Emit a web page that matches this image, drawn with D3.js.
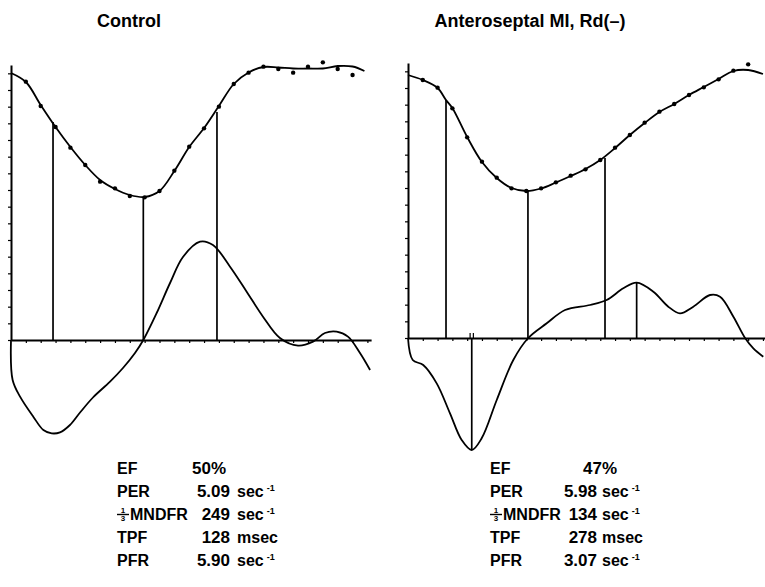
<!DOCTYPE html>
<html>
<head>
<meta charset="utf-8">
<script src="https://cdn.jsdelivr.net/npm/d3@7"></script>
<style>
body { margin: 0; background: #fff; }
text { font-family: "Liberation Sans", Arial, sans-serif; fill: #000; }
</style>
</head>
<body>
<script>
// frames of the gated study, 0..24 ; values in count units, 0 = derivative baseline
var titles = ["Control", "Anteroseptal MI, Rd(\u2013)"];

// Control : measured points (frames 1..23)
var ctrlDotV = [155.0, 140.4, 127.8, 115.4, 105.0, 95.0, 91.0, 86.4, 85.6, 89.4, 101.6, 116.0,
	127.0, 140.0, 153.6, 160.4, 164.0, 162.6, 160.4, 164.0, 166.6, 162.6, 159.0];
// Control : fitted volume curve
var ctrlFitF = [0, 1, 2, 3, 4, 5, 6, 7, 8, 9, 10, 11, 12, 13, 14, 15, 16, 17, 18, 19, 20, 21, 22, 23, 23.8];
var ctrlFitV = [160.2, 154.8, 141.0, 127.8, 115.8, 105.0, 96.0, 90.6, 87.0, 85.8, 89.4, 101.4, 115.8,
	127.2, 140.4, 153.6, 160.5, 163.8, 163.5, 162.9, 162.9, 162.9, 164.4, 164.1, 161.4];
// Control : first derivative
var ctrlDerF = [0, 0.11, 0.61, 1.5, 2.18, 2.74, 3.3, 3.97, 4.65, 5.52, 6.67, 7.54, 8.35, 8.91, 9.81, 10.71,
	11.58, 12.73, 13.6, 14.75, 15.87, 16.97, 18.11, 19.33, 20.34, 21.14, 21.93, 22.69, 23.5, 24.18];
var ctrlDerV = [0, -24, -34, -46, -54, -56, -55.4, -51, -43.5, -34.5, -25, -16.8, -7.8, 0, 16.2, 34.2,
	49.8, 59, 57, 44, 29, 14, 1.2, -3.4, -1, 4.2, 5, 2, -7.8, -18];
// Control : marker lines (frame, top of line)
var ctrlEventF = [2.83, 8.91, 13.87];
var ctrlEventV = [130.8, 85.8, 136.8];

// Anteroseptal MI : measured points (frames 1..23)
var miDotV = [154.8, 150.2, 137.8, 120.4, 105.8, 96.2, 89.8, 88.2, 89.8, 93.4, 97.4, 101.2, 106.8,
	114.2, 121.8, 129.2, 135.8, 140.4, 145.8, 150.4, 155.2, 160.4, 164.2];
var miFitF = [0, 1, 2, 2.57, 3, 4, 5, 6, 7, 8, 9, 10, 11, 12, 13, 14, 15, 16, 17, 18, 19, 20, 21, 22, 23, 24];
var miFitV = [157.8, 154.8, 150.0, 142.8, 138.0, 120.6, 105.6, 96.0, 90.0, 88.2, 89.7, 93.3, 97.2, 101.4,
	106.8, 114.0, 121.8, 129.0, 135.6, 140.4, 145.8, 150.6, 155.4, 160.2, 160.8, 158.4];
var miDerF = [0, 0.32, 1.03, 1.94, 2.84, 3.63, 4.31, 4.98, 6.0, 7.12, 8.13, 9.38, 10.62, 12.31, 13.43,
	14.56, 15.46, 16.59, 17.6, 18.39, 19.29, 20.42, 21.1, 22.0, 22.79, 23.35, 24.02];
var miDerV = [0, -13.2, -16.2, -27.2, -45.2, -61.2, -67.2, -60.2, -37.2, -13.2, 0, 8.8, 16.8, 19.8, 22.8,
	29.8, 33.2, 27.8, 18.8, 14.8, 18.8, 25.8, 24.8, 12.8, 0, -6.2, -11.2];
var miEventF = [2.57, 8.11, 13.32, 4.31, 15.46];
var miEventV = [142.8, 88.2, 108, -67.2, 33.2];
var miCursorF = [4.2, 4.42];

// parameter table
var rowLabels = ["EF", "PER", "MNDFR", "TPF", "PFR"];
var ctrlValues = ["50%", "5.09", "249", "128", "5.90"];
var miValues = ["47%", "5.98", "134", "278", "3.07"];
var rowUnits = ["", "sec", "sec", "msec", "sec"];
var rowSup = ["", "-1", "-1", "", "-1"];

var W = 765, H = 587;
var svg = d3.select("body").append("svg")
	.attr("width", W)
	.attr("height", H);

var panels = [
	{title: titles[0], dots: ctrlDotV, fitF: ctrlFitF, fitV: ctrlFitV, derF: ctrlDerF, derV: ctrlDerV,
		evF: ctrlEventF, evV: ctrlEventV, cursor: [], x0: 11, step: 14.85, base: 340, titleX: 129,
		labelX: 117, valX: 230, efX: 226, unitX: 237, values: ctrlValues},
	{title: titles[1], dots: miDotV, fitF: miFitF, fitV: miFitV, derF: miDerF, derV: miDerV,
		evF: miEventF, evV: miEventV, cursor: miCursorF, x0: 408, step: 14.79, base: 338, titleX: 530,
		labelX: 490, valX: 597, efX: 617, unitX: 602, values: miValues}
];

var yMax = 165, pxPerUnit = 275 / 165;
var rowY = [474, 497, 520, 543, 566];

panels.forEach(function(p) {
	var x = d3.scaleLinear().domain([0, 24.25]).range([p.x0, p.x0 + 24.25 * p.step]);
	var y = d3.scaleLinear().domain([0, yMax]).range([p.base, p.base - yMax * pxPerUnit]);
	var g = svg.append("g");

	// title
	g.append("text")
		.attr("x", p.titleX)
		.attr("y", 27)
		.attr("text-anchor", "middle")
		.style("font-size", "18px")
		.style("font-weight", "bold")
		.text(p.title);

	// y axis (small ticks on the left)
	g.append("g")
		.attr("transform", "translate(" + x(0) + ",0)")
		.call(d3.axisLeft(y).tickValues(d3.range(0, 161, 10)).tickSize(3).tickSizeOuter(0).tickFormat(""))
		.call(function(a) {
			a.select(".domain").attr("stroke-width", 2);
			a.selectAll(".tick line").attr("stroke-width", 1.2);
		});

	// x axis along the zero line
	g.append("g")
		.attr("transform", "translate(0," + y(0) + ")")
		.call(d3.axisBottom(x).tickValues(d3.range(1, 25)).tickSize(3).tickSizeOuter(0).tickFormat(""))
		.call(function(a) {
			a.select(".domain").attr("stroke-width", 2);
			a.selectAll(".tick line").attr("stroke-width", 1.2);
		});

	// marker lines
	g.selectAll(".ev")
		.data(p.evF)
		.enter()
		.append("line")
		.attr("x1", function(d) { return x(d); })
		.attr("x2", function(d) { return x(d); })
		.attr("y1", y(0))
		.attr("y2", function(d, i) { return y(p.evV[i]); })
		.attr("stroke", "#000")
		.attr("stroke-width", 1.7);

	// small cursor ticks above the zero line
	g.selectAll(".cur")
		.data(p.cursor)
		.enter()
		.append("line")
		.attr("x1", function(d) { return x(d); })
		.attr("x2", function(d) { return x(d); })
		.attr("y1", y(0))
		.attr("y2", y(0) - 5)
		.attr("stroke", "#000")
		.attr("stroke-width", 1.2);

	var line = d3.line()
		.x(function(d) { return x(d[0]); })
		.y(function(d) { return y(d[1]); })
		.curve(d3.curveCatmullRom.alpha(0.5));

	// fitted volume curve
	g.append("path")
		.attr("d", line(p.fitF.map(function(f, i) { return [f, p.fitV[i]]; })))
		.attr("fill", "none")
		.attr("stroke", "#000")
		.attr("stroke-width", 1.8);

	// derivative curve
	g.append("path")
		.attr("d", line(p.derF.map(function(f, i) { return [f, p.derV[i]]; })))
		.attr("fill", "none")
		.attr("stroke", "#000")
		.attr("stroke-width", 1.8);

	// data points
	g.selectAll(".dot")
		.data(p.dots)
		.enter()
		.append("circle")
		.attr("cx", function(d, i) { return x(i + 1); })
		.attr("cy", function(d) { return y(d); })
		.attr("r", 2.2)
		.attr("fill", "#000");

	// table
	rowLabels.forEach(function(lab, i) {
		var lx = p.labelX;
		if (i == 2) {
			// the 1/3 fraction in front of MNDFR
			g.append("text").attr("x", lx + 6).attr("y", rowY[i] - 7)
				.attr("text-anchor", "middle").style("font-size", "8px").style("font-weight", "bold").text("1");
			g.append("line").attr("x1", lx).attr("x2", lx + 12)
				.attr("y1", rowY[i] - 5.5).attr("y2", rowY[i] - 5.5)
				.attr("stroke", "#000").attr("stroke-width", 1.4);
			g.append("text").attr("x", lx + 6).attr("y", rowY[i] + 1)
				.attr("text-anchor", "middle").style("font-size", "8px").style("font-weight", "bold").text("3");
			lx += 13;
		}
		g.append("text")
			.attr("x", lx)
			.attr("y", rowY[i])
			.style("font-size", "16px")
			.style("font-weight", "bold")
			.text(lab);

		g.append("text")
			.attr("x", i == 0 ? p.efX : p.valX)
			.attr("y", rowY[i])
			.attr("text-anchor", "end")
			.style("font-size", "17px")
			.style("font-weight", "bold")
			.text(p.values[i]);

		if (rowUnits[i]) {
			var t = g.append("text")
				.attr("x", p.unitX)
				.attr("y", rowY[i])
				.style("font-size", "16px")
				.style("font-weight", "bold")
				.text(rowUnits[i]);
			if (rowSup[i]) {
				t.append("tspan")
					.attr("dx", 3)
					.attr("dy", -6)
					.style("font-size", "9px")
					.text(rowSup[i]);
			}
		}
	});
});
</script>
</body>
</html>
